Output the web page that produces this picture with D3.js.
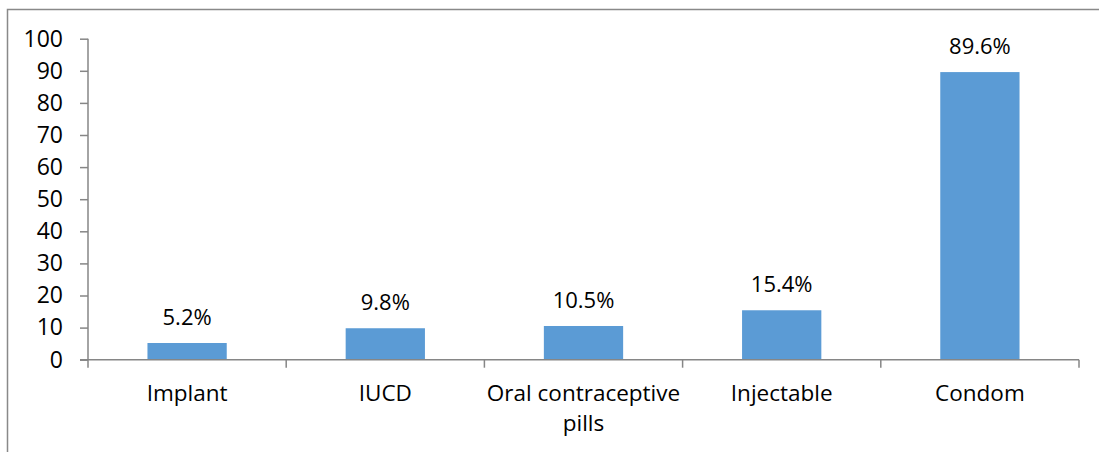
<!DOCTYPE html>
<html>
<head>
<meta charset="utf-8">
<script src="https://cdn.jsdelivr.net/npm/d3@7"></script>
<style>
  body { margin: 0; background: #fff; }
  text { font-family: "Open Sans", sans-serif; fill: #000; }
</style>
</head>
<body>
<script>
// chart data
var categories = ["Implant", "IUCD", "Oral contraceptive pills", "Injectable", "Condom"];
var labelLines = [["Implant"], ["IUCD"], ["Oral contraceptive", "pills"], ["Injectable"], ["Condom"]];
var values = [5.2, 9.8, 10.5, 15.4, 89.6];
var yTicks = [0, 10, 20, 30, 40, 50, 60, 70, 80, 90, 100];

var W = 1099, H = 452;
var margin = { left: 88, right: 20, top: 38.7, bottom: 92.3 };

var svg = d3.select("body")
    .append("svg")
        .attr("width", W)
        .attr("height", H);

// outer chart border
svg.append("rect")
    .attr("x", 7.5)
    .attr("y", 9.5)
    .attr("width", W + 10)
    .attr("height", H + 10)
    .attr("fill", "none")
    .attr("stroke", "#898989")
    .attr("stroke-width", 1.5);

var x = d3.scaleBand()
    .domain(categories)
    .range([margin.left, 1079])
    .paddingInner(0)
    .paddingOuter(0);

var y = d3.scaleLinear()
    .domain([0, 100])
    .range([H - margin.bottom, margin.top]);

var barW = x.bandwidth() * 0.4;

// bars
svg.selectAll("rect.bar")
    .data(values)
    .enter()
    .append("rect")
        .attr("class", "bar")
        .attr("x", function (d, i) { return x(categories[i]) + x.bandwidth() / 2 - barW / 2; })
        .attr("y", function (d) { return y(d); })
        .attr("width", barW)
        .attr("height", function (d) { return y(0) - y(d); })
        .attr("fill", "#5B9BD5");

// y axis
var yAxis = svg.append("g")
    .attr("transform", "translate(" + margin.left + ",0)")
    .call(d3.axisLeft(y).tickValues(yTicks).tickSize(8).tickPadding(17));

yAxis.selectAll("path, line").attr("stroke", "#868686").attr("stroke-width", 1.5);
yAxis.select("path").attr("d", "M0," + y(100) + "V" + y(0));
yAxis.selectAll("text")
    .style("font-size", "23px")
    .attr("fill", "#000");

// x axis line and boundary ticks
var xAxisG = svg.append("g");
xAxisG.append("line")
    .attr("x1", margin.left - 8)
    .attr("x2", x.range()[1])
    .attr("y1", y(0))
    .attr("y2", y(0))
    .attr("stroke", "#868686")
    .attr("stroke-width", 1.5);

var bounds = categories.map(function (c) { return x(c); }).concat([x.range()[1]]);
xAxisG.selectAll("line.tick")
    .data(bounds)
    .enter()
    .append("line")
        .attr("class", "tick")
        .attr("x1", function (d) { return d; })
        .attr("x2", function (d) { return d; })
        .attr("y1", y(0))
        .attr("y2", y(0) + 8)
        .attr("stroke", "#868686")
        .attr("stroke-width", 1.5);

// category labels
var catText = svg.selectAll("text.cat")
    .data(labelLines)
    .enter()
    .append("text")
        .attr("class", "cat")
        .attr("text-anchor", "middle")
        .style("font-size", "22.5px")
        .attr("x", function (d, i) { return x(categories[i]) + x.bandwidth() / 2; })
        .attr("y", 401);

catText.selectAll("tspan")
    .data(function (d) { return d; })
    .enter()
    .append("tspan")
        .attr("x", function () { return d3.select(this.parentNode).attr("x"); })
        .attr("dy", function (d, i) { return i === 0 ? 0 : 30; })
        .text(function (d) { return d; });

// value labels
svg.selectAll("text.val")
    .data(values)
    .enter()
    .append("text")
        .attr("class", "val")
        .attr("text-anchor", "middle")
        .style("font-size", "22px")
        .attr("x", function (d, i) { return x(categories[i]) + x.bandwidth() / 2; })
        .attr("y", function (d) { return y(d) - 18; })
        .text(function (d) { return d.toFixed(1) + "%"; });
</script>
</body>
</html>
